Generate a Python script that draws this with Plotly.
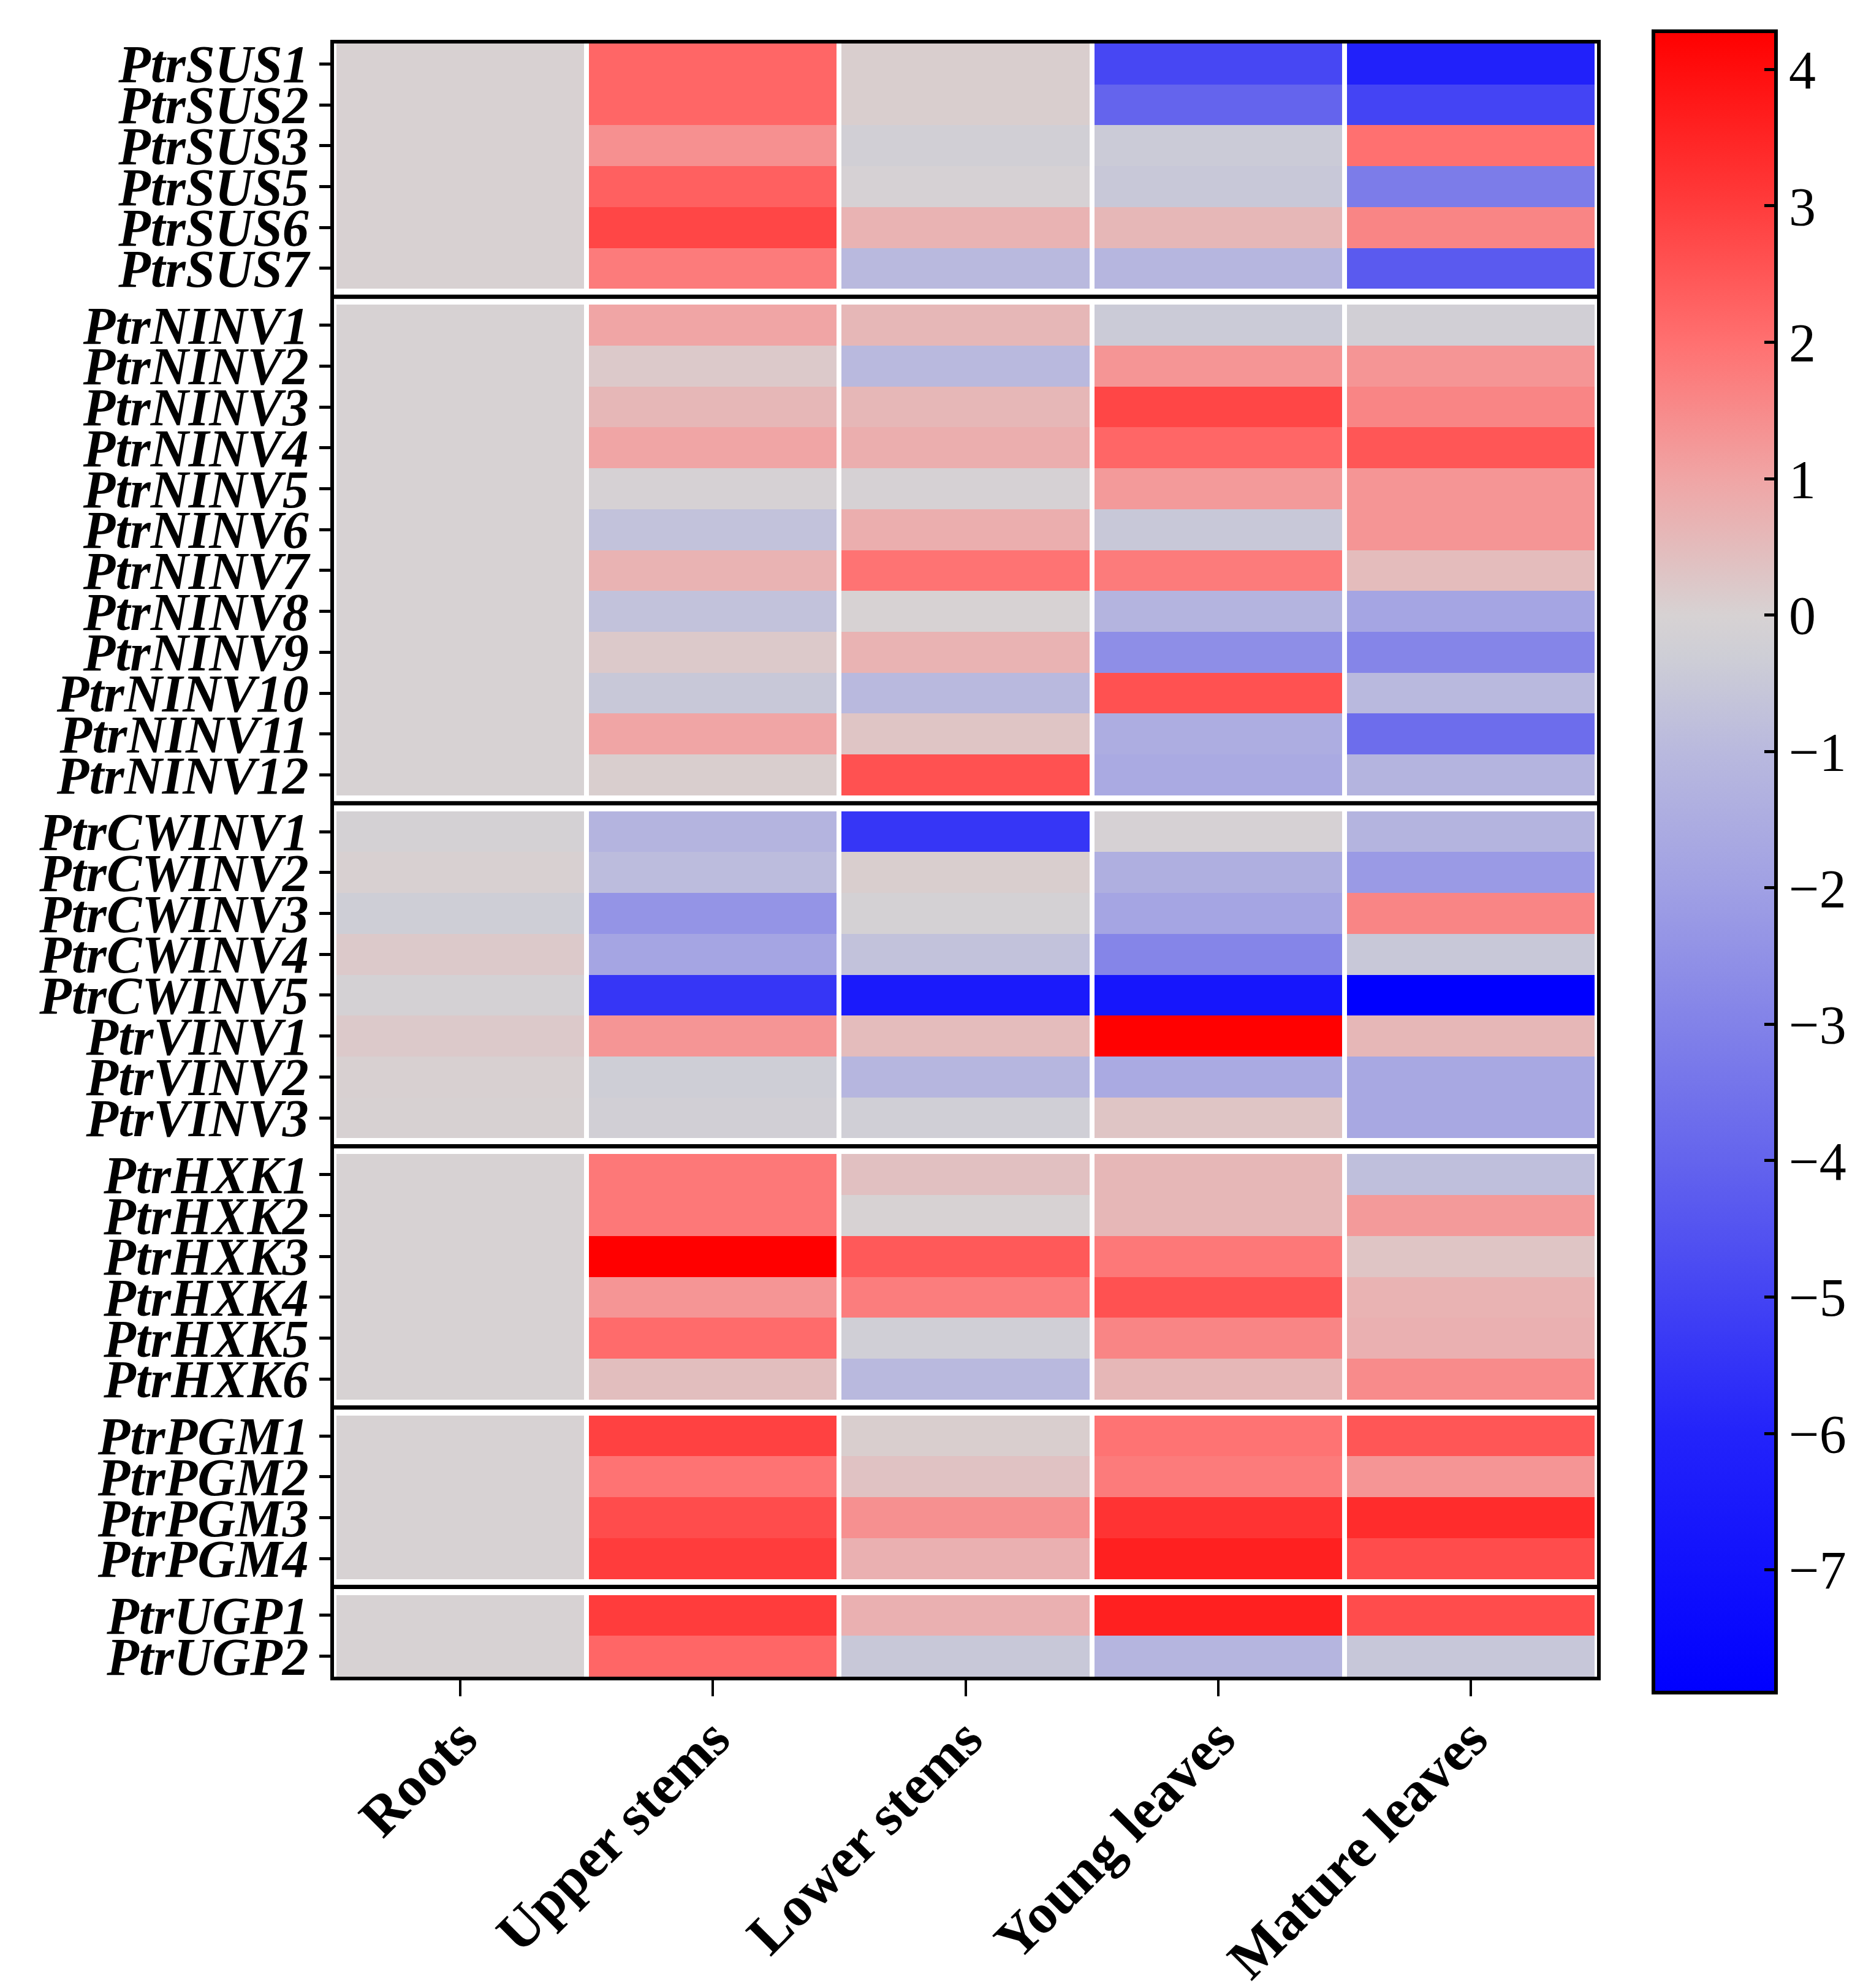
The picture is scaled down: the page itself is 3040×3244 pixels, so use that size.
import numpy as np
import plotly.graph_objects as go

tissues = ["Roots", "Upper stems", "Lower stems", "Young leaves", "Mature leaves"]

group_sus = ["PtrSUS1", "PtrSUS2", "PtrSUS3", "PtrSUS5", "PtrSUS6", "PtrSUS7"]
group_ninv = ["PtrNINV%d" % i for i in range(1, 13)]
group_inv = ["PtrCWINV1", "PtrCWINV2", "PtrCWINV3", "PtrCWINV4", "PtrCWINV5",
             "PtrVINV1", "PtrVINV2", "PtrVINV3"]
group_hxk = ["PtrHXK1", "PtrHXK2", "PtrHXK3", "PtrHXK4", "PtrHXK5", "PtrHXK6"]
group_pgm = ["PtrPGM1", "PtrPGM2", "PtrPGM3", "PtrPGM4"]
group_ugp = ["PtrUGP1", "PtrUGP2"]
groups = [group_sus, group_ninv, group_inv, group_hxk, group_pgm, group_ugp]

roots = [0.03, 0.03, 0.03, 0.03, 0.03, 0.03,
         0, 0, 0, 0, 0, 0, 0, 0, 0, 0, 0, 0,
         -0.1, 0.05, -0.3, 0.2, -0.1, 0.2, 0.05, 0.02,
         0, 0, 0, 0, 0, 0,
         0, 0, 0, 0,
         0, 0]
upper_stems = [2.2, 2.2, 1.4, 2.3, 2.8, 1.8,
               1.0, 0.2, 0.6, 1.0, -0.05, -0.7, 0.7, -0.7, 0.2, -0.5, 1.0, 0.1,
               -1.2, -0.9, -2.4, -1.8, -5.4, 1.3, -0.3, -0.2,
               1.85, 1.85, 4.28, 1.3, 2.1, 0.45,
               2.9, 1.95, 2.7, 3.0,
               3.0, 2.2]
lower_stems = [0.1, 0.1, -0.2, -0.05, 0.7, -1.0,
               0.6, -1.0, 0.6, 0.8, -0.05, 0.8, 1.95, 0.0, 0.7, -1.0, 0.3, 2.6,
               -5.4, 0.1, -0.1, -0.7, -6.5, 0.5, -1.1, -0.25,
               0.4, 0.0, 2.45, 1.75, -0.25, -1.0,
               0.1, 0.35, 1.4, 0.75,
               0.75, -0.5]
young_leaves = [-4.9, -4.0, -0.4, -0.5, 0.6, -1.1,
                -0.4, 1.3, 2.8, 2.2, 1.2, -0.5, 1.8, -1.2, -2.6, 2.6, -1.5, -1.6,
                -0.05, -1.4, -1.8, -2.9, -6.7, 4.25, -1.6, 0.3,
                0.6, 0.6, 1.85, 2.6, 1.6, 0.6,
                1.95, 1.8, 3.2, 3.6,
                3.6, -1.15]
mature_leaves = [-6.1, -5.0, 2.0, -3.2, 1.6, -4.3,
                 -0.2, 1.3, 1.6, 2.5, 1.3, 1.3, 0.5, -1.8, -2.9, -1.0, -3.7, -1.2,
                 -1.2, -2.2, 1.6, -0.5, -7.9, 0.6, -1.7, -1.7,
                 -0.8, 1.2, 0.3, 0.7, 0.75, 1.5,
                 2.5, 1.3, 3.35, 2.7,
                 2.7, -0.55]

cbar_ticks = list(range(-7, 5))
cmin, cmax = -7.9, 4.28

# colour anchors (value, colour)
anchors = [(-7.9, "rgb(0,0,255)"), (-6, "rgb(35,35,250)"), (-4, "rgb(100,100,237)"),
           (-2, "rgb(160,160,228)"), (-1, "rgb(185,185,222)"), (-0.3, "rgb(206,206,214)"),
           (0, "rgb(215,210,211)"), (1, "rgb(240,165,165)"), (2, "rgb(255,112,112)"),
           (3, "rgb(255,60,60)"), (4.28, "rgb(255,0,0)")]
colorscale = [[(v - cmin) / (cmax - cmin), c] for v, c in anchors]

# ---- figure geometry (pixels) ----
W, H = 3040, 3244
ML, MR, MT, MB = 537, 442, 63, 516
PW, PH = W - ML - MR, H - MT - MB
CB_LEFT, CB_TOP, CB_BOTTOM = 2690, 43, 2754
cb_x = (CB_LEFT - ML) / PW
cb_y = (H - MB - CB_TOP) / PH
cb_len = (CB_BOTTOM - CB_TOP) / PH

# ---- build matrix with gap rows between groups ----
GAP = 0.39
columns = [roots, upper_stems, lower_stems, young_leaves, mature_leaves]
z_rows, edges, tickvals, ticktext, sep_y = [], [0.0], [], [], []
idx = 0
for gi, grp in enumerate(groups):
    for g in grp:
        z_rows.append([col[idx] for col in columns])
        tickvals.append(edges[-1] + 0.5)
        ticktext.append("<b><i>%s</i></b>" % g)
        edges.append(edges[-1] + 1.0)
        idx += 1
    if gi < len(groups) - 1:
        z_rows.append([np.nan] * len(columns))
        sep_y.append(edges[-1] + GAP / 2)
        edges.append(edges[-1] + GAP)

fig = go.Figure()
fig.add_trace(go.Heatmap(
    z=z_rows, x=tissues, y=edges,
    colorscale=colorscale, zmin=cmin, zmax=cmax,
    xgap=8, ygap=0, hoverongaps=False,
    colorbar=dict(
        thickness=200, thicknessmode="pixels",
        lenmode="fraction", len=cb_len,
        x=cb_x, xanchor="left",
        y=cb_y, yanchor="top",
        xpad=0, ypad=0,
        outlinewidth=6, outlinecolor="black",
        ticks="inside", ticklen=22, tickwidth=5, tickcolor="black",
        tickvals=cbar_ticks,
        tickfont=dict(family="Liberation Serif", size=88, color="black"),
    ),
))

for yv in sep_y:
    fig.add_shape(type="line", xref="paper", x0=0, x1=1, yref="y", y0=yv, y1=yv,
                  line=dict(color="black", width=7))

# mirrored tick marks on the left edge of the colour bar
cb_bottom_frac = cb_y - cb_len
for v in cbar_ticks:
    yv = cb_bottom_frac + (v - cmin) / (cmax - cmin) * cb_len
    fig.add_shape(type="line", xref="paper", yref="paper",
                  x0=cb_x, x1=cb_x + 22 / PW, y0=yv, y1=yv,
                  line=dict(color="black", width=5))

font_fam = "Liberation Serif, Times New Roman, serif"
fig.update_layout(
    width=W, height=H,
    margin=dict(l=ML, r=MR, t=MT, b=MB, autoexpand=False),
    plot_bgcolor="white", paper_bgcolor="white",
    xaxis=dict(
        tickmode="array", tickvals=tissues,
        ticktext=["<b>%s</b>" % t for t in tissues],
        tickangle=-45, tickfont=dict(family=font_fam, size=92, color="black"),
        ticks="outside", ticklen=26, tickwidth=4, tickcolor="black",
        ticklabelstandoff=-22,
        showline=True, linecolor="black", linewidth=6, mirror=True,
        showgrid=False, zeroline=False, automargin=False,
    ),
    yaxis=dict(
        tickmode="array", tickvals=tickvals, ticktext=ticktext,
        range=[edges[-1], 0],
        tickfont=dict(family=font_fam, size=86, color="black"),
        ticks="outside", ticklen=18, tickwidth=5, tickcolor="black",
        showline=True, linecolor="black", linewidth=6, mirror=True,
        showgrid=False, zeroline=False, automargin=False,
    ),
)

fig.write_html("out.html")
